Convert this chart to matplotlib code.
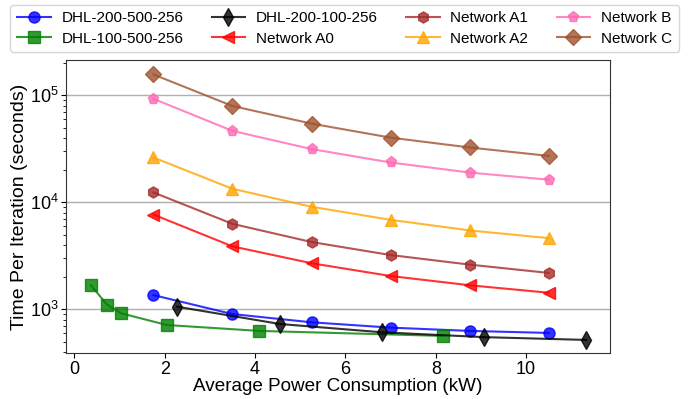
import numpy as np
import matplotlib
matplotlib.use("Agg")
from matplotlib import pyplot as plt

plt.rcParams['font.family'] = ['Liberation Sans', 'DejaVu Sans']
plt.rcParams['mathtext.fontset'] = 'custom'
plt.rcParams['mathtext.rm'] = 'Liberation Sans'

# power (kW) per configuration
net_power = [1.75, 3.5, 5.25, 7.0, 8.75, 10.5]
dhl_200_500_power = [1.75, 3.5, 5.25, 7.0, 8.75, 10.5]
dhl_200_100_power = [2.27, 4.55, 6.8, 9.07, 11.33]
dhl_100_500_power = [0.37, 0.72, 1.04, 2.05, 4.09, 8.15]

# time per iteration (seconds)
dhl_200_500_time = [1360, 904, 757, 675, 629, 602]
dhl_100_500_time = [1680, 1110, 918, 714, 629, 565]
dhl_200_100_time = [1060, 730, 611, 550, 518]
net_a0_time = [7700, 3880, 2700, 2050, 1680, 1430]
net_a1_time = [12400, 6300, 4260, 3220, 2620, 2190]
net_a2_time = [26300, 13400, 9100, 6870, 5470, 4630]
net_b_time = [93000, 46600, 31500, 23600, 19000, 16300]
net_c_time = [157000, 79600, 54500, 40300, 32600, 27200]

fig, ax = plt.subplots(figsize=(6.89, 3.99), dpi=100)

series = [
    ("DHL-200-500-256", dhl_200_500_power, dhl_200_500_time, "blue", "o", 8),
    ("DHL-100-500-256", dhl_100_500_power, dhl_100_500_time, "green", "s", 8),
    ("DHL-200-100-256", dhl_200_100_power, dhl_200_100_time, "black", "d", 9),
    ("Network A0", net_power, net_a0_time, "red", "<", 8),
    ("Network A1", net_power, net_a1_time, "brown", "h", 8),
    ("Network A2", net_power, net_a2_time, "orange", "^", 8),
    ("Network B", net_power, net_b_time, "hotpink", "p", 8),
    ("Network C", net_power, net_c_time, "sienna", "D", 8),
]

for label, x, y, color, marker, ms in series:
    ax.plot(x, y, color=color, marker=marker, markersize=ms, linewidth=1.5,
            alpha=0.8, label=label)

ax.set_yscale("log")
ax.set_ylim(390, 2.15e5)
ax.set_xlim(-0.18, 11.85)
ax.set_xticks([0, 2, 4, 6, 8, 10])
ax.yaxis.grid(True, which="major", color="#b0b0b0", linewidth=1)
ax.set_axisbelow(True)
ax.tick_params(axis="both", labelsize=13, pad=2)
ax.set_xlabel("Average Power Consumption (kW)", fontsize=13.6, labelpad=0)
ax.set_ylabel("Time Per Iteration (seconds)", fontsize=14, labelpad=1)
for s in ax.spines.values():
    s.set_color("#333333")

fig.subplots_adjust(left=0.096, right=0.885, top=0.85, bottom=0.115)
fig.legend(loc="upper center", bbox_to_anchor=(0.5, 1.0), ncol=4,
           fontsize=11, handlelength=2.2, columnspacing=1.85,
           handletextpad=0.7, borderpad=0.45, labelspacing=0.4,
           borderaxespad=0.3)

plt.savefig("out.png")
